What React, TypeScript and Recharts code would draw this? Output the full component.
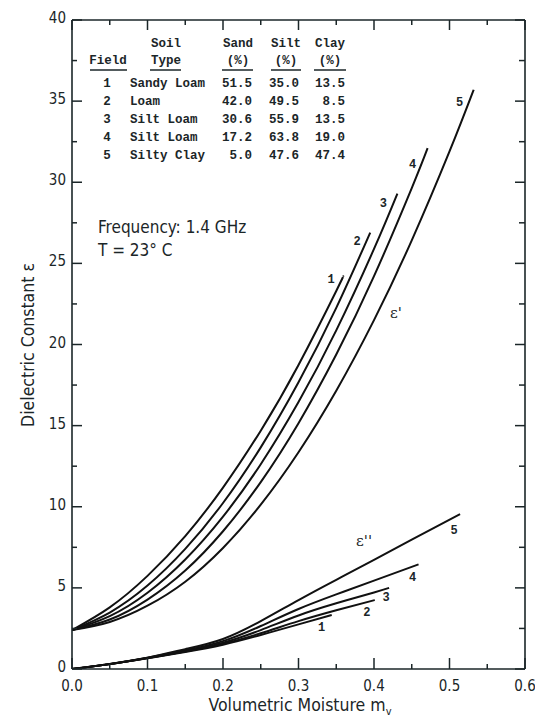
import React from 'react';
import { LineChart, Line, XAxis, YAxis } from 'recharts';

// ---- Table data ----
const fieldIds = ['1', '2', '3', '4', '5'];
const soilTypes = ['Sandy Loam', 'Loam', 'Silt Loam', 'Silt Loam', 'Silty Clay'];
const sandPct = ['51.5', '42.0', '30.6', '17.2', '5.0'];
const siltPct = ['35.0', '49.5', '55.9', '63.8', '47.6'];
const clayPct = ['13.5', '8.5', '13.5', '19.0', '47.4'];

// ---- Axis ticks ----
const xMajorTicks = [0, 0.1, 0.2, 0.3, 0.4, 0.5, 0.6];
const xMinorTicks = [0.05, 0.15, 0.25, 0.35, 0.45, 0.55];
const xTickLabels = ['0.0', '0.1', '0.2', '0.3', '0.4', '0.5', '0.6'];
const yMajorTicks = [0, 5, 10, 15, 20, 25, 30, 35, 40];
const yMinorTicks = [2.5, 7.5, 12.5, 17.5, 22.5, 27.5, 32.5, 37.5];

// ---- epsilon' (real part) ----
const mvReal1 = [0, 0.05, 0.1, 0.15, 0.2, 0.25, 0.3, 0.35, 0.359];
const epsReal1 = [2.4, 3.8, 5.74, 8.19, 11.18, 14.69, 18.74, 23.3, 24.2];
const mvReal2 = [0, 0.05, 0.1, 0.15, 0.2, 0.25, 0.3, 0.35, 0.395];
const epsReal2 = [2.4, 3.48, 5.14, 7.4, 10.23, 13.66, 17.67, 22.26, 26.9];
const mvReal3 = [0, 0.05, 0.1, 0.15, 0.2, 0.25, 0.3, 0.35, 0.4, 0.431];
const epsReal3 = [2.4, 3.26, 4.7, 6.75, 9.39, 12.62, 16.45, 20.87, 25.89, 29.3];
const mvReal4 = [0, 0.05, 0.1, 0.15, 0.2, 0.25, 0.3, 0.35, 0.4, 0.45, 0.471];
const epsReal4 = [2.4, 3.05, 4.28, 6.07, 8.49, 11.52, 15.15, 19.38, 24.21, 29.64, 32.1];
const mvReal5 = [0, 0.05, 0.1, 0.15, 0.2, 0.25, 0.3, 0.35, 0.4, 0.45, 0.5, 0.532];
const epsReal5 = [2.4, 2.9, 3.9, 5.38, 7.46, 10.13, 13.36, 17.15, 21.5, 26.42, 31.9, 35.7];

// ---- epsilon'' (imaginary part) ----
const mvImag1 = [0, 0.05, 0.1, 0.15, 0.2, 0.25, 0.3, 0.344];
const epsImag1 = [0, 0.3, 0.66, 1.05, 1.5, 2.1, 2.75, 3.33];
const mvImag2 = [0, 0.05, 0.1, 0.15, 0.2, 0.25, 0.3, 0.35, 0.401];
const epsImag2 = [0, 0.3, 0.67, 1.08, 1.55, 2.2, 2.95, 3.62, 4.25];
const mvImag3 = [0, 0.05, 0.1, 0.15, 0.2, 0.25, 0.3, 0.35, 0.4, 0.42];
const epsImag3 = [0, 0.3, 0.68, 1.1, 1.62, 2.4, 3.3, 4.05, 4.72, 5.0];
const mvImag4 = [0, 0.05, 0.1, 0.15, 0.2, 0.25, 0.3, 0.35, 0.4, 0.459];
const epsImag4 = [0, 0.31, 0.69, 1.15, 1.72, 2.65, 3.7, 4.6, 5.45, 6.45];
const mvImag5 = [0, 0.05, 0.1, 0.15, 0.2, 0.25, 0.3, 0.35, 0.4, 0.45, 0.514];
const epsImag5 = [0, 0.31, 0.7, 1.22, 1.85, 2.95, 4.25, 5.5, 6.72, 7.98, 9.54];

const build = (mv: number[], eps: number[]) => mv.map((m, i) => ({ m, e: eps[i] }));

const realSeries = [
  build(mvReal1, epsReal1),
  build(mvReal2, epsReal2),
  build(mvReal3, epsReal3),
  build(mvReal4, epsReal4),
  build(mvReal5, epsReal5),
];
const imagSeries = [
  build(mvImag1, epsImag1),
  build(mvImag2, epsImag2),
  build(mvImag3, epsImag3),
  build(mvImag4, epsImag4),
  build(mvImag5, epsImag5),
];

const INK = '#1b2628';
const SANS = "'DejaVu Sans Condensed', 'Liberation Sans Narrow', 'DejaVu Sans', sans-serif";
const MONO = "'Liberation Mono', 'DejaVu Sans Mono', monospace";

const realLabelOffsets = [
  [-12, 7],
  [-13, 12],
  [-14, 13],
  [-15, 20],
  [-14, 16],
];
const imagLabelOffsets = [
  [-10, 16],
  [-8, 16],
  [-3, 13],
  [-6, 17],
  [-6, 20],
];

const endLabel = (text: string, lastIndex: number, dx: number, dy: number) => (props: any) => {
  const { x, y, index } = props;
  if (index !== lastIndex) return null;
  return (
    <text x={x + dx} y={y + dy} fontFamily={MONO} fontWeight="bold" fontSize={12} fill={INK} textAnchor="middle">
      {text}
    </text>
  );
};

const isMajorX = (v: number) => xMajorTicks.some((t) => Math.abs(t - v) < 1e-9);
const isMajorY = (v: number) => yMajorTicks.some((t) => Math.abs(t - v) < 1e-9);
const labelX = (v: number) => xTickLabels[xMajorTicks.findIndex((t) => Math.abs(t - v) < 1e-9)];

const tickFont = { fontFamily: SANS, fontSize: 15, fill: INK, style: { fontStretch: 'condensed' as any } };

const BottomTick = (p: any) => {
  const v = p.payload.value;
  const major = isMajorX(v);
  return (
    <g>
      <line x1={p.x} x2={p.x} y1={p.y} y2={p.y - (major ? 11 : 5)} stroke={INK} strokeWidth={1.5} />
      {major && (
        <text x={p.x} y={p.y + 22} textAnchor="middle" {...tickFont}>
          {labelX(v)}
        </text>
      )}
    </g>
  );
};
const TopTick = (p: any) => {
  const v = p.payload.value;
  const major = isMajorX(v);
  return <line x1={p.x} x2={p.x} y1={p.y} y2={p.y + (major ? 10 : 5)} stroke={INK} strokeWidth={1.5} />;
};
const LeftTick = (p: any) => {
  const v = p.payload.value;
  const major = isMajorY(v);
  return (
    <g>
      <line x1={p.x} x2={p.x + (major ? 10 : 5)} y1={p.y} y2={p.y} stroke={INK} strokeWidth={1.5} />
      {major && (
        <text x={p.x - 6} y={p.y + 3} textAnchor="end" {...tickFont}>
          {v}
        </text>
      )}
    </g>
  );
};
const RightTick = (p: any) => {
  const v = p.payload.value;
  const major = isMajorY(v);
  return <line x1={p.x} x2={p.x - (major ? 10 : 6)} y1={p.y} y2={p.y} stroke={INK} strokeWidth={1.5} />;
};

const allX = [...xMajorTicks, ...xMinorTicks].sort((a, b) => a - b);
const allY = [...yMajorTicks, ...yMinorTicks].sort((a, b) => a - b);
const axisLineStyle = { stroke: INK, strokeWidth: 1.6 };

export default function App() {
  const colX = { field: 107, soil: 130, sand: 252, silt: 299, clay: 345 };
  const rowY = [87, 105, 123, 141, 159];
  return (
    <div style={{ position: 'absolute', left: 0, top: 0, width: 535, height: 718, background: '#fff' }}>
      <LineChart width={535} height={718} margin={{ top: 19, right: 9, bottom: 0, left: 0 }}>
        <XAxis
          xAxisId="b"
          type="number"
          dataKey="m"
          domain={[0, 0.6]}
          ticks={allX}
          interval={0}
          height={49}
          tickSize={0}
          tickMargin={0}
          tickLine={false}
          tick={<BottomTick />}
          axisLine={axisLineStyle}
          allowDataOverflow
        />
        <XAxis
          xAxisId="t"
          orientation="top"
          type="number"
          dataKey="m"
          domain={[0, 0.6]}
          ticks={allX}
          interval={0}
          height={1}
          tickSize={0}
          tickMargin={0}
          tickLine={false}
          tick={<TopTick />}
          axisLine={axisLineStyle}
          allowDataOverflow
        />
        <YAxis
          yAxisId="l"
          type="number"
          domain={[0, 40]}
          ticks={allY}
          interval={0}
          width={72}
          tickSize={0}
          tickMargin={0}
          tickLine={false}
          tick={<LeftTick />}
          axisLine={axisLineStyle}
          allowDataOverflow
        />
        <YAxis
          yAxisId="r"
          orientation="right"
          type="number"
          domain={[0, 40]}
          ticks={allY}
          interval={0}
          width={1}
          tickSize={0}
          tickMargin={0}
          tickLine={false}
          tick={<RightTick />}
          axisLine={axisLineStyle}
          allowDataOverflow
        />

        {realSeries.map((d, i) => (
          <Line
            key={'r' + i}
            data={d}
            dataKey="e"
            xAxisId="b"
            yAxisId="l"
            type="natural"
            stroke="#111"
            strokeWidth={2}
            dot={false}
            isAnimationActive={false}
            label={endLabel(fieldIds[i], d.length - 1, realLabelOffsets[i][0], realLabelOffsets[i][1])}
          />
        ))}
        {imagSeries.map((d, i) => (
          <Line
            key={'i' + i}
            data={d}
            dataKey="e"
            xAxisId="b"
            yAxisId="l"
            type="natural"
            stroke="#111"
            strokeWidth={2}
            dot={false}
            isAnimationActive={false}
            label={endLabel(fieldIds[i], d.length - 1, imagLabelOffsets[i][0], imagLabelOffsets[i][1])}
          />
        ))}
      </LineChart>

      <svg width={535} height={718} style={{ position: 'absolute', left: 0, top: 0, pointerEvents: 'none' }}>
        {/* axis titles */}
        <text x={300} y={711} textAnchor="middle" fontFamily={SANS} fontSize={17.5} fill={INK} style={{ fontStretch: 'condensed' }}>
          Volumetric Moisture m
          <tspan fontSize={11} dy={4}>v</tspan>
        </text>
        <text
          x={0}
          y={0}
          transform="translate(34,345) rotate(-90)"
          textAnchor="middle"
          fontFamily={SANS}
          fontSize={17.5}
          fill={INK}
          style={{ fontStretch: 'condensed' }}
        >
          Dielectric Constant ε
        </text>

        {/* table */}
        <g fontFamily={MONO} fontSize={12.5} fontWeight="bold" fill={INK}>
          <text x={108} y={64} textAnchor="middle">Field</text>
          <text x={166} y={47} textAnchor="middle">Soil</text>
          <text x={166} y={64} textAnchor="middle">Type</text>
          <text x={238} y={47} textAnchor="middle">Sand</text>
          <text x={238} y={64} textAnchor="middle">(%)</text>
          <text x={286} y={47} textAnchor="middle">Silt</text>
          <text x={286} y={64} textAnchor="middle">(%)</text>
          <text x={330} y={47} textAnchor="middle">Clay</text>
          <text x={330} y={64} textAnchor="middle">(%)</text>
          {fieldIds.map((f, i) => (
            <g key={f}>
              <text x={colX.field} y={rowY[i]} textAnchor="middle">{f}</text>
              <text x={colX.soil} y={rowY[i]}>{soilTypes[i]}</text>
              <text x={colX.sand} y={rowY[i]} textAnchor="end">{sandPct[i]}</text>
              <text x={colX.silt} y={rowY[i]} textAnchor="end">{siltPct[i]}</text>
              <text x={colX.clay} y={rowY[i]} textAnchor="end">{clayPct[i]}</text>
            </g>
          ))}
        </g>
        <g stroke={INK} strokeWidth={1.5}>
          <line x1={90} x2={127} y1={70} y2={70} />
          <line x1={150} x2={181} y1={70} y2={70} />
          <line x1={222} x2={253} y1={70} y2={70} />
          <line x1={271} x2={301} y1={70} y2={70} />
          <line x1={314} x2={346} y1={70} y2={70} />
        </g>

        {/* conditions */}
        <text x={98} y={233} fontFamily={SANS} fontSize={17} fill={INK} style={{ fontStretch: 'condensed' }}>
          Frequency:  1.4 GHz
        </text>
        <text x={98} y={256} fontFamily={SANS} fontSize={17} fill={INK} style={{ fontStretch: 'condensed' }}>
          T = 23° C
        </text>

        {/* curve family labels */}
        <text x={396} y={318} fontFamily="'DejaVu Serif', serif" fontSize={15} fill={INK} textAnchor="middle">
          ε'
        </text>
        <text x={364} y={546} fontFamily="'DejaVu Serif', serif" fontSize={15} fill={INK} textAnchor="middle">
          ε''
        </text>
      </svg>
    </div>
  );
}
